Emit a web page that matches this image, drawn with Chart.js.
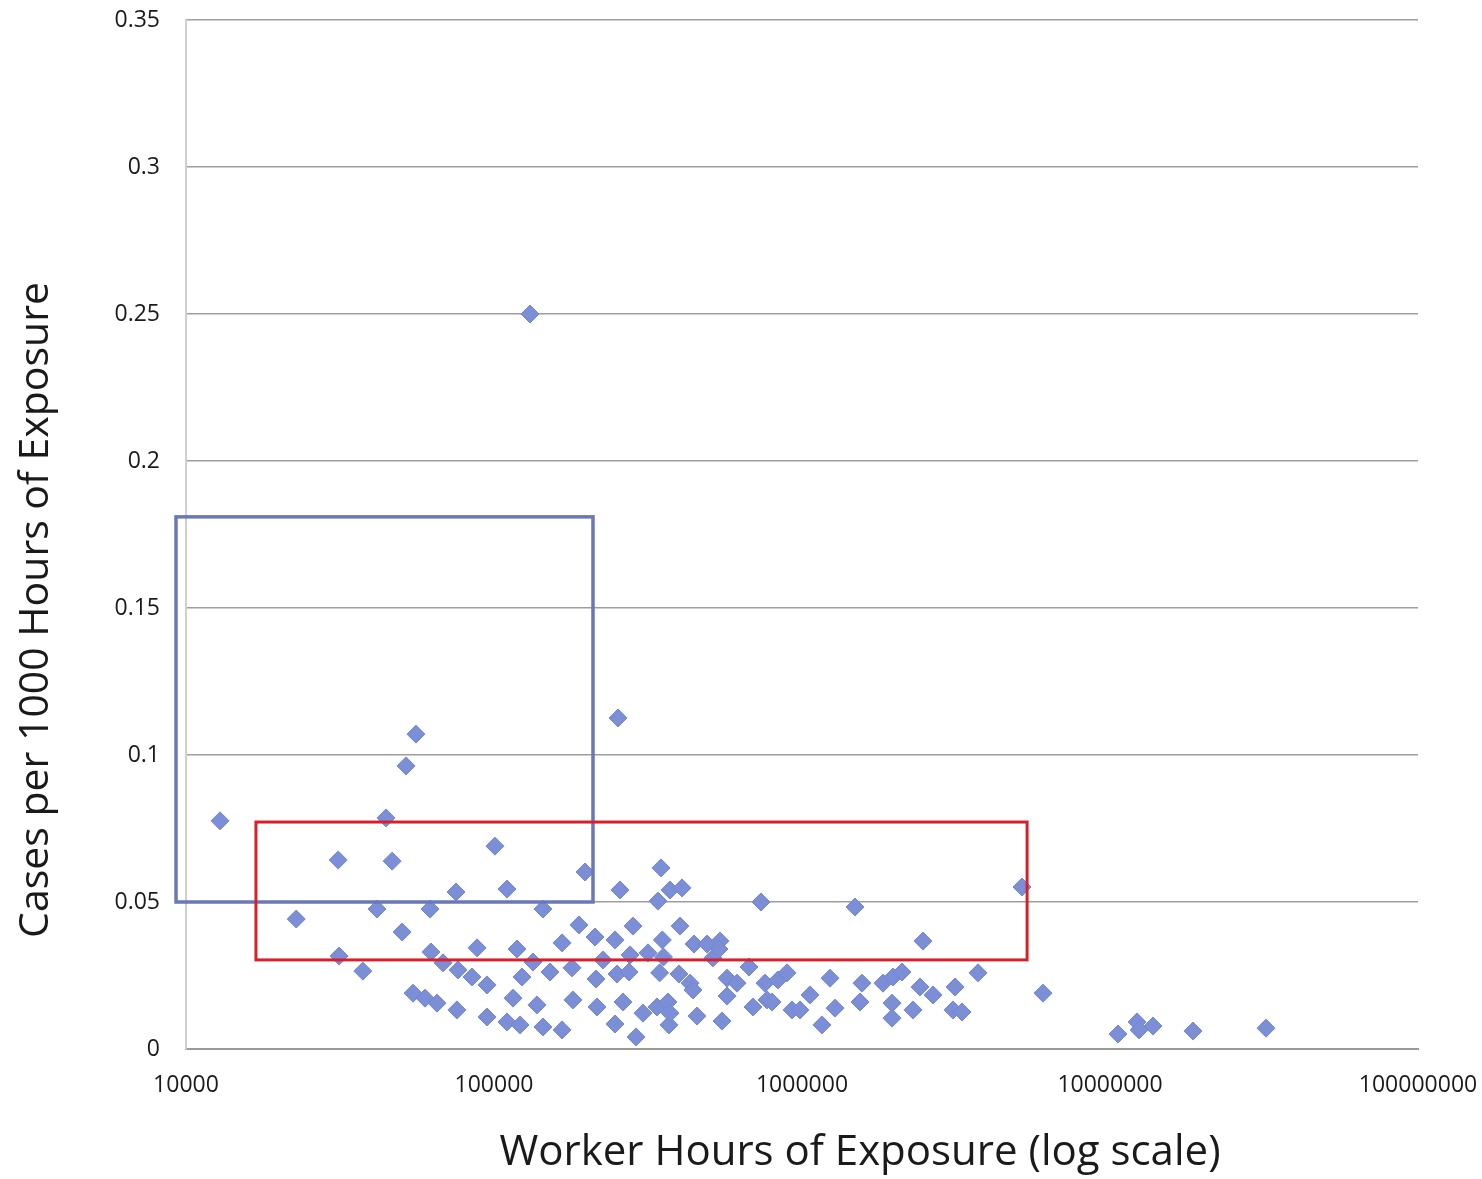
<!DOCTYPE html>
<html>
<head>
<meta charset="utf-8">
<title>Cases per 1000 Hours of Exposure</title>
<script src="https://cdn.jsdelivr.net/npm/chart.js@4.4.1/dist/chart.umd.min.js"></script>
<style>
    body { margin: 0; background: #fff; }
    #wrap { width: 1482px; height: 1179px; position: relative; }
</style>
</head>
<body>
<div id="wrap"><canvas id="chart"></canvas></div>
<script>
// worker hours of exposure (x) and cases per 1000 hours (y)
const hours = [
    12900, 22800, 31200, 31400, 37500, 41700, 44600, 46700, 50300, 51800,
    55800, 54600, 59700, 65300, 62000, 62400, 68300, 76400, 75300, 75800,
    84800, 88100, 94900, 94900, 100700, 110200, 110200, 115300, 118800, 121500,
    123300, 130900, 133800, 137900, 144200, 144200, 152000, 166300, 166300, 179200,
    180500, 188800, 197500, 212800, 214400, 216000, 225900, 247100, 250900, 247100,
    252700, 256500, 262300, 274400, 276400, 282700, 289100, 304600, 316200, 338200,
    340800, 348500, 352000, 345000, 355000, 367200, 370000, 372800, 372800, 407700,
    401700, 398600, 432900, 442700, 446100, 456100, 491600, 514000, 541800, 537700,
    550000, 570900, 570900, 615200, 672900, 693300, 736000, 758500, 769900, 799200,
    835800, 894000, 927900, 985100, 1062000, 1161000, 1233000, 1280000, 1486000, 1566000,
    1543000, 1832000, 1975000, 2112000, 1960000, 1960000, 2293000, 2416000, 2471000, 2663000,
    3140000, 3093000, 3307000, 3728000, 5180000, 6060000, 10620000, 12240000, 12430000, 13790000,
    18600000, 32100000
];
const rates = [
    0.0776, 0.0442, 0.0643, 0.0316, 0.0265, 0.0476, 0.0786, 0.0639, 0.0398, 0.0963,
    0.1071, 0.0190, 0.0173, 0.0156, 0.0476, 0.0330, 0.0293, 0.0269, 0.0534, 0.0133,
    0.0245, 0.0344, 0.0218, 0.0109, 0.0690, 0.0544, 0.0092, 0.0173, 0.0340, 0.0082,
    0.0245, 0.2500, 0.0296, 0.0150, 0.0476, 0.0075, 0.0262, 0.0065, 0.0361, 0.0276,
    0.0167, 0.0422, 0.0602, 0.0381, 0.0238, 0.0143, 0.0303, 0.0371, 0.0255, 0.0085,
    0.1126, 0.0541, 0.0160, 0.0262, 0.0320, 0.0418, 0.0041, 0.0122, 0.0327, 0.0143,
    0.0503, 0.0616, 0.0371, 0.0259, 0.0313, 0.0160, 0.0082, 0.0122, 0.0541, 0.0548,
    0.0418, 0.0255, 0.0224, 0.0201, 0.0357, 0.0112, 0.0357, 0.0310, 0.0367, 0.0340,
    0.0095, 0.0241, 0.0180, 0.0224, 0.0279, 0.0143, 0.0500, 0.0224, 0.0167, 0.0160,
    0.0235, 0.0259, 0.0133, 0.0133, 0.0184, 0.0082, 0.0241, 0.0139, 0.0483, 0.0224,
    0.0160, 0.0224, 0.0245, 0.0262, 0.0156, 0.0105, 0.0133, 0.0211, 0.0367, 0.0184,
    0.0211, 0.0133, 0.0126, 0.0259, 0.0551, 0.0190, 0.0051, 0.0092, 0.0065, 0.0078,
    0.0061, 0.0071
];

const xTicks = [10000, 100000, 1000000, 10000000, 100000000];
const yTicks = [0, 0.05, 0.1, 0.15, 0.2, 0.25, 0.3, 0.35];
const yTickLabels = ['0', '0.05', '0.1', '0.15', '0.2', '0.25', '0.3', '0.35'];

// highlight boxes drawn on top: [xMin, xMax, yMin, yMax]
const blueBox = [9280, 209600, 0.05, 0.181];
const redBox = [16870, 5380000, 0.0303, 0.0772];

const FONT = '"Open Sans", "Noto Sans", sans-serif';

const boxes = {
    id: 'boxes',
    afterDatasetsDraw(chart) {
        const { ctx, scales: { x, y } } = chart;
        const draw = (b, color, w) => {
            const l = x.getPixelForValue(b[0]), r = x.getPixelForValue(b[1]);
            const t = y.getPixelForValue(b[3]), btm = y.getPixelForValue(b[2]);
            ctx.save();
            ctx.strokeStyle = color;
            ctx.lineWidth = w;
            ctx.strokeRect(l, t, r - l, btm - t);
            ctx.restore();
        };
        draw(blueBox, '#6a78b8', 3.5);
        draw(redBox, '#d6202c', 3);
    }
};

// axis titles sit off-centre in the original, so place them by hand
const titles = {
    id: 'titles',
    afterDraw(chart) {
        const ctx = chart.ctx;
        ctx.save();
        ctx.fillStyle = '#1a1a1a';
        ctx.textAlign = 'center';
        ctx.textBaseline = 'middle';
        ctx.font = '42px ' + FONT;
        ctx.fillText('Worker Hours of Exposure (log scale)', 860, 1153);
        ctx.translate(36, 610);
        ctx.rotate(-Math.PI / 2);
        ctx.font = '41px ' + FONT;
        ctx.fillText('Cases per 1000 Hours of Exposure', 0, 0);
        ctx.restore();
    }
};

new Chart(document.getElementById('chart'), {
    type: 'scatter',
    data: {
        datasets: [{
            data: hours.map((h, i) => ({ x: h, y: rates[i] })),
            pointStyle: 'rectRot',
            pointRadius: 9,
            backgroundColor: '#7b8ed6',
            borderColor: '#7186d4',
            borderWidth: 1
        }]
    },
    options: {
        responsive: true,
        maintainAspectRatio: false,
        animation: false,
        layout: { padding: { top: 20, right: 64, left: 0, bottom: 0 } },
        plugins: { legend: { display: false }, tooltip: { enabled: false } },
        scales: {
            x: {
                type: 'logarithmic',
                min: 10000,
                max: 100000000,
                afterBuildTicks: (s) => { s.ticks = xTicks.map(v => ({ value: v })); },
                afterFit: (s) => { s.height = 130; s.paddingLeft = 0; s.paddingRight = 0; },
                grid: { display: false },
                border: { display: true, color: '#9a9a9a', width: 2 },
                ticks: {
                    color: '#1a1a1a',
                    font: { family: FONT, size: 23 },
                    padding: 15,
                    maxRotation: 0,
                    autoSkip: false,
                    callback: (v) => String(v)
                }
            },
            y: {
                min: 0,
                max: 0.35,
                afterBuildTicks: (s) => { s.ticks = yTicks.map(v => ({ value: v })); },
                afterFit: (s) => { s.width = 186; s.paddingTop = 0; s.paddingBottom = 0; },
                grid: { color: '#9e9e9e', lineWidth: 1.5, drawTicks: false },
                border: { display: true, color: '#cfcfcf', width: 2 },
                ticks: {
                    color: '#1a1a1a',
                    font: { family: FONT, size: 23 },
                    padding: 26,
                    callback: (v, i) => yTickLabels[i]
                }
            }
        }
    },
    plugins: [boxes, titles]
});
</script>
</body>
</html>
